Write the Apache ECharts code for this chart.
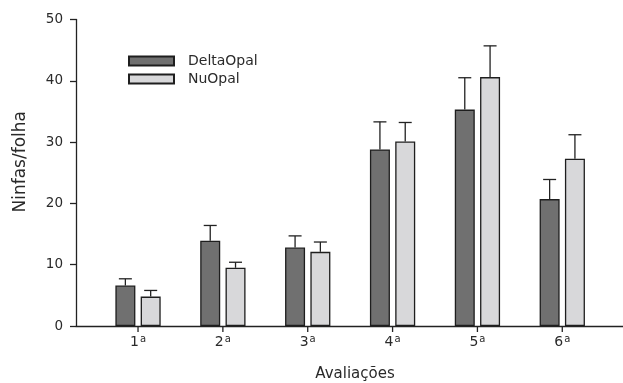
<!DOCTYPE html>
<html>
<head>
<meta charset="utf-8">
<script src="https://cdn.jsdelivr.net/npm/echarts@6/dist/echarts.min.js"></script>
<style>
  html, body { margin: 0; padding: 0; background: #fff; }
  #chart { width: 623px; height: 383px; }
</style>
</head>
<body>
<div id="chart"></div>
<script>
// dados
const categories = ["1", "2", "3", "4", "5", "6"];
const deltaOpal = [6.6, 13.9, 12.8, 28.8, 35.3, 20.7];
const deltaOpalErr = [7.7, 16.4, 14.7, 33.3, 40.5, 23.9];
const nuOpal = [4.8, 9.5, 12.1, 30.1, 40.6, 27.3];
const nuOpalErr = [5.8, 10.4, 13.7, 33.2, 45.7, 31.2];
const yTicks = [0, 10, 20, 30, 40, 50];

const FONT = "DejaVu Sans";
const TEXT = "#2a2a2a";
const BAR_W = 20;
const GAP_PX = 5.3;

// grelha das barras e grelha dos eixos (o eixo x começa no eixo y)
const W = 623;
const BAR_LEFT = 95.6, BAR_RIGHT = 18.3, AXIS_LEFT = 76;
const band = (W - BAR_LEFT - BAR_RIGHT) / categories.length;
const axisMin = -(BAR_LEFT + band / 2 - AXIS_LEFT) / band;
const axisMax = axisMin + (W - AXIS_LEFT) / band;
const catIdx = categories.map((c, i) => i);

const chart = echarts.init(document.getElementById("chart"));

// barra de erro (só a parte de cima)
const errSeries = (means, tops, side) => ({
  type: "custom",
  xAxisIndex: 0,
  yAxisIndex: 0,
  silent: true,
  z: 1,
  data: means.map((m, i) => [i, m, tops[i]]),
  renderItem: (params, api) => {
    const off = side * (BAR_W + GAP_PX) / 2;
    const base = api.coord([api.value(0), api.value(1)]);
    const top = api.coord([api.value(0), api.value(2)]);
    const x = base[0] + off;
    const style = { stroke: "#222", lineWidth: 1.3 };
    return {
      type: "group",
      children: [
        { type: "line", shape: { x1: x, y1: base[1], x2: x, y2: top[1] }, style },
        { type: "line", shape: { x1: x - 6.5, y1: top[1], x2: x + 6.5, y2: top[1] }, style },
      ],
    };
  },
});

// marcas do eixo x no centro de cada categoria
const tickSeries = {
  type: "custom",
  xAxisIndex: 0,
  yAxisIndex: 0,
  silent: true,
  clip: false,
  z: 3,
  data: catIdx.map((i) => [i, 0]),
  renderItem: (params, api) => {
    const p = api.coord([api.value(0), 0]);
    return {
      type: "line",
      shape: { x1: p[0], y1: p[1], x2: p[0], y2: p[1] + 6 },
      style: { stroke: "#222", lineWidth: 1.3 },
    };
  },
};

chart.setOption({
  animation: false,
  textStyle: { fontFamily: FONT, color: TEXT },
  legend: {
    orient: "vertical",
    left: 123,
    top: 49,
    itemWidth: 45,
    itemHeight: 9,
    itemGap: 4,
    icon: "rect",
    data: ["DeltaOpal", "NuOpal"],
    textStyle: { fontFamily: FONT, fontSize: 14, color: TEXT, padding: [0, 0, 0, 9], lineHeight: 14 },
  },
  grid: [
    { left: BAR_LEFT, right: BAR_RIGHT, top: 19.5, bottom: 57, outerBoundsMode: "none" },
    { left: AXIS_LEFT, right: 0, top: 19.5, bottom: 57, outerBoundsMode: "none" },
  ],
  xAxis: [
    {
      gridIndex: 0,
      type: "category",
      data: categories,
      show: false,
    },
    {
      gridIndex: 1,
      type: "value",
      min: axisMin,
      max: axisMax,
      axisLine: { show: true, onZero: false, lineStyle: { color: "#222", width: 1.3 } },
      axisTick: { show: false },
      axisLabel: {
        show: true,
        customValues: catIdx,
        margin: 8,
        formatter: (v) => "{n|" + categories[Math.round(v)] + "}{s|a}",
        rich: {
          n: { fontFamily: FONT, fontSize: 14, color: TEXT },
          s: { fontFamily: FONT, fontSize: 10, color: TEXT, verticalAlign: "top", padding: [0, 0, 6, 1] },
        },
      },
      splitLine: { show: false },
      name: "Avaliações",
      nameLocation: "middle",
      nameGap: 41,
      nameTextStyle: { fontFamily: FONT, fontSize: 15, color: TEXT, padding: [0, 0, 0, 11] },
    },
  ],
  yAxis: [
    {
      gridIndex: 0,
      type: "value",
      min: 0,
      max: 50,
      interval: 10,
      show: false,
    },
    {
      gridIndex: 1,
      type: "value",
      min: 0,
      max: 50,
      interval: 10,
      axisLine: { show: true, onZero: false, lineStyle: { color: "#222", width: 1.3 } },
      axisTick: { show: true, length: 6, lineStyle: { color: "#222", width: 1.3 } },
      axisLabel: {
        margin: 13,
        fontFamily: FONT,
        fontSize: 13.5,
        color: TEXT,
        formatter: (v) => (yTicks.includes(v) ? String(v) : ""),
      },
      splitLine: { show: false },
      name: "Ninfas/folha",
      nameLocation: "middle",
      nameGap: 47,
      nameTextStyle: { fontFamily: FONT, fontSize: 17, color: TEXT, padding: [0, 0, 0, 22] },
    },
  ],
  series: [
    {
      name: "DeltaOpal",
      type: "bar",
      xAxisIndex: 0,
      yAxisIndex: 0,
      barWidth: BAR_W,
      barGap: (GAP_PX / BAR_W * 100) + "%",
      data: deltaOpal,
      z: 2,
      itemStyle: { color: "#707070", borderColor: "#1e1e1e", borderWidth: 1.3 },
    },
    {
      name: "NuOpal",
      type: "bar",
      xAxisIndex: 0,
      yAxisIndex: 0,
      barWidth: BAR_W,
      data: nuOpal,
      z: 2,
      itemStyle: { color: "#d8d8da", borderColor: "#1e1e1e", borderWidth: 1.3 },
    },
    errSeries(deltaOpal, deltaOpalErr, -1),
    errSeries(nuOpal, nuOpalErr, 1),
    tickSeries,
  ],
});
</script>
</body>
</html>
